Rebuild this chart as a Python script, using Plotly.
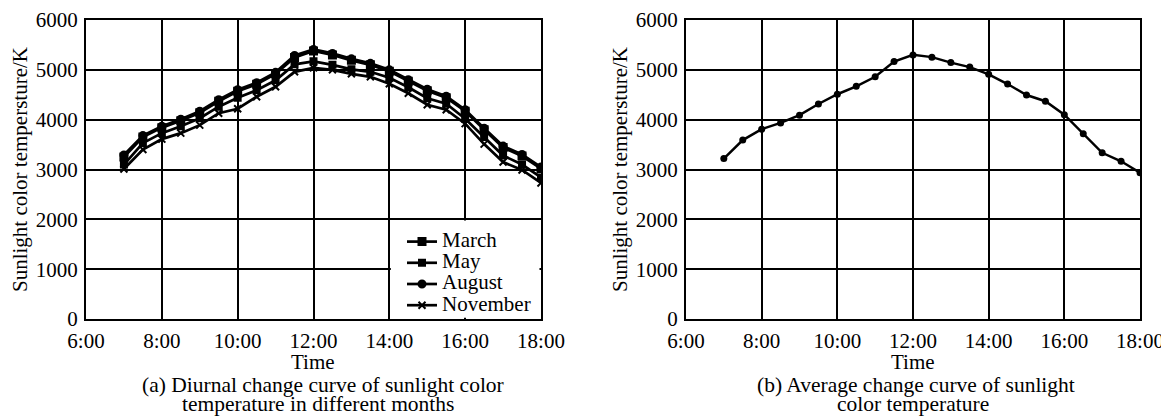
import plotly.graph_objects as go

# ---- data ----
times = ["7:00", "7:30", "8:00", "8:30", "9:00", "9:30", "10:00", "10:30", "11:00", "11:30",
         "12:00", "12:30", "13:00", "13:30", "14:00", "14:30", "15:00", "15:30", "16:00",
         "16:30", "17:00", "17:30", "18:00"]

march = [3250, 3650, 3840, 3980, 4140, 4370, 4570, 4710, 4920, 5250, 5380, 5300, 5190, 5100,
         4970, 4770, 4580, 4440, 4170, 3800, 3440, 3270, 3020]
may = [3100, 3530, 3730, 3870, 4030, 4260, 4440, 4590, 4790, 5110, 5170, 5100, 5010, 4960,
       4840, 4650, 4430, 4320, 4020, 3650, 3280, 3100, 2840]
august = [3290, 3680, 3870, 4010, 4170, 4400, 4600, 4740, 4950, 5290, 5410, 5330, 5220, 5130,
          5000, 4800, 4610, 4470, 4200, 3830, 3470, 3300, 3050]
november = [3010, 3400, 3610, 3730, 3890, 4130, 4220, 4460, 4660, 4960, 5040, 5000, 4920, 4860,
            4720, 4530, 4300, 4200, 3920, 3510, 3150, 2990, 2730]
average = [3220, 3590, 3810, 3935, 4090, 4315, 4510, 4670, 4860, 5165, 5300, 5255, 5145, 5055,
           4910, 4715, 4495, 4370, 4100, 3715, 3335, 3165, 2935]

month_names = ["March", "May", "August", "November"]
tick_vals = [6, 8, 10, 12, 14, 16, 18]
tick_text = ["6:00", "8:00", "10:00", "12:00", "14:00", "16:00", "18:00"]
y_ticks = [0, 1000, 2000, 3000, 4000, 5000, 6000]


def to_hours(t):
    h, m = t.split(":")
    return int(h) + int(m) / 60.0


x = [to_hours(t) for t in times]

FONT = "Liberation Serif, Times New Roman, serif"
FS = 21
OFF = 8                      # page body margin of the html page
W, H = 1169 - OFF, 417 - OFF


def px(xr):
    return (xr - OFF) / W


def py(yr):
    return 1 - (yr - OFF) / H


fig = go.Figure()

styles = [("square", 7), ("square", 6), ("circle", 7), ("x-thin-open", 7)]
for name, ys, (sym, sz) in zip(month_names, [march, may, august, november], styles):
    fig.add_trace(go.Scatter(
        x=x, y=ys, name="<span style='font-size:%dpx'>%s</span>" % (FS, name),
        mode="lines+markers",
        line=dict(color="black", width=2.7),
        marker=dict(symbol=sym, size=sz, color="black",
                    line=dict(color="black", width=2)),
        xaxis="x", yaxis="y", showlegend=True,
    ))

fig.add_trace(go.Scatter(
    x=x, y=average, name="Average", mode="lines+markers",
    line=dict(color="black", width=2.5),
    marker=dict(symbol="circle", size=7, color="black"),
    xaxis="x2", yaxis="y2", showlegend=False,
))

axis_common = dict(
    showgrid=True, gridcolor="black", gridwidth=2,
    showline=True, linecolor="black", linewidth=2, mirror=True,
    zeroline=False, ticks="", automargin=False,
    tickfont=dict(family=FONT, size=FS, color="black"),
)

fig.update_layout(
    template="none",
    width=W, height=H,
    margin=dict(l=0, r=0, t=0, b=0, pad=0),
    paper_bgcolor="white", plot_bgcolor="white",
    font=dict(family=FONT, color="black", size=FS),
    xaxis=dict(domain=[px(86), px(541)], range=[6, 18], tickvals=tick_vals, ticktext=tick_text,
               anchor="y", ticklabelstandoff=2, **axis_common),
    yaxis=dict(domain=[py(319), py(20)], range=[0, 6000], tickvals=y_ticks, anchor="x",
               ticklabelstandoff=2, **axis_common),
    xaxis2=dict(domain=[px(686), px(1140)], range=[6, 18], tickvals=tick_vals, ticktext=tick_text,
                anchor="y2", ticklabelstandoff=2, **axis_common),
    yaxis2=dict(domain=[py(319), py(20)], range=[0, 6000], tickvals=y_ticks, anchor="x2",
                ticklabelstandoff=2, **axis_common),
    legend=dict(x=px(402), y=py(226), xanchor="left", yanchor="top",
                bgcolor="rgba(0,0,0,0)", font=dict(family=FONT, size=14, color="black"),
                itemwidth=30, tracegroupgap=0, borderwidth=0),
    showlegend=True,
)

# white area behind the legend (gridlines hidden there in the reference)
fig.add_shape(type="rect", xref="x", yref="y", x0=14.04, x1=17.96, y0=25, y1=1975,
              fillcolor="white", line=dict(width=0), layer="between")

ann = []


def add_text(xr, yr, text, angle=0, size=FS):
    ann.append(dict(x=px(xr), y=py(yr), xref="paper", yref="paper", text=text,
                    showarrow=False, textangle=angle, xanchor="center", yanchor="middle",
                    font=dict(family=FONT, size=size, color="black")))


add_text(20, 170, "Sunlight color tempersture/K", -90)
add_text(620, 170, "Sunlight color tempersture/K", -90)
add_text(313, 362, "Time")
add_text(323, 385, "(a) Diurnal change curve of sunlight color", size=21.5)
add_text(318, 404, "temperature in different months", size=21.5)
add_text(913, 362, "Time")
add_text(916, 385, "(b) Average change curve of sunlight", size=21.5)
add_text(913, 404, "color temperature", size=21.5)
fig.update_layout(annotations=ann)

fig.write_html("out.html")
